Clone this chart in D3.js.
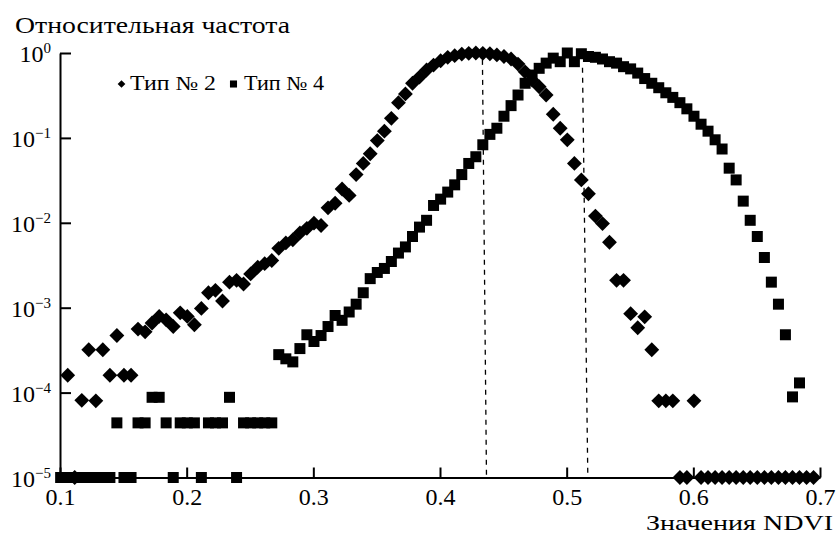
<!DOCTYPE html>
<html>
<head>
<meta charset="utf-8">
<script src="https://cdn.jsdelivr.net/npm/d3@7"></script>
<style>
    body { margin: 0; background: #fff; }
    text { font-family: "Liberation Serif", "Times New Roman", serif; fill: #000; }
</style>
</head>
<body>
<div id="chart"></div>
<script>
// NDVI bin centres
const ndvi = [
    0.1005, 0.1061, 0.1116, 0.1172, 0.1227, 0.1283, 0.1338, 0.1394, 0.1449, 0.1505,
    0.1561, 0.1616, 0.1672, 0.1727, 0.1783, 0.1838, 0.1894, 0.1949, 0.2005, 0.2061,
    0.2116, 0.2172, 0.2227, 0.2283, 0.2338, 0.2394, 0.2449, 0.2505, 0.2561, 0.2616,
    0.2672, 0.2727, 0.2783, 0.2838, 0.2894, 0.2949, 0.3005, 0.3061, 0.3116, 0.3172,
    0.3227, 0.3283, 0.3338, 0.3394, 0.3449, 0.3505, 0.3561, 0.3616, 0.3672, 0.3727,
    0.3783, 0.3838, 0.3894, 0.3949, 0.4005, 0.4061, 0.4116, 0.4172, 0.4227, 0.4283,
    0.4338, 0.4394, 0.4449, 0.4505, 0.4561, 0.4616, 0.4672, 0.4727, 0.4783, 0.4838,
    0.4894, 0.4949, 0.5005, 0.5061, 0.5116, 0.5172, 0.5227, 0.5283, 0.5338, 0.5394,
    0.5449, 0.5505, 0.5561, 0.5616, 0.5672, 0.5727, 0.5783, 0.5838, 0.5894, 0.5949,
    0.6005, 0.6061, 0.6116, 0.6172, 0.6227, 0.6283, 0.6338, 0.6394, 0.6449, 0.6505,
    0.6561, 0.6616, 0.6672, 0.6727, 0.6783, 0.6838, 0.6894, 0.6949
];

// relative frequency, type No 2 (diamonds); 0 = empty bin, drawn on the axis floor
const type2 = [
    null, 1.6e-4, 0, 8.1e-5, 3.2e-4, 8.0e-5, 3.2e-4, 1.6e-4, 4.7e-4, 1.6e-4,
    1.6e-4, 5.6e-4, 5.2e-4, 6.6e-4, 7.9e-4, 7.2e-4, 6.0e-4, 8.7e-4, 7.9e-4, 6.3e-4,
    9.8e-4, 1.5e-3, 1.6e-3, 1.2e-3, 2.0e-3, 2.1e-3, 1.9e-3, 2.5e-3, 3.0e-3, 3.3e-3,
    3.6e-3, 5.0e-3, 5.8e-3, 6.3e-3, 7.6e-3, 8.6e-3, 9.9e-3, 9.3e-3, 1.5e-2, 1.7e-2,
    2.5e-2, 2.1e-2, 3.7e-2, 5.0e-2, 6.5e-2, 9.3e-2, 0.12, 0.17, 0.26, 0.33,
    0.44, 0.52, 0.63, 0.72, 0.81, 0.89, 0.93, 0.97, 0.99, 1.0,
    0.99, 0.98, 0.95, 0.91, 0.85, 0.74, 0.60, 0.48, 0.40, 0.32,
    0.19, 0.13, 0.095, 0.05, 0.032, 0.022, 0.012, 0.0098, 0.0059, 0.0021,
    0.0021, 8.5e-4, 5.8e-4, 7.8e-4, 3.2e-4, 8.0e-5, 8.0e-5, 8.0e-5, 0, 0,
    8.0e-5, 0, 0, 0, 0, 0, 0, 0, 0, 0,
    0, 0, 0, 0, 0, 0, 0, 0
];

// relative frequency, type No 4 (squares)
const type4 = [
    0, 0, 0, 0, 0, 0, 0, 0, 4.4e-5, 0,
    0, 4.4e-5, 4.4e-5, 8.8e-5, 8.8e-5, 4.4e-5, 0, 4.4e-5, 4.4e-5, 4.4e-5,
    0, 4.4e-5, 4.4e-5, 4.4e-5, 8.8e-5, 0, 4.4e-5, 4.4e-5, 4.4e-5, 4.4e-5,
    4.4e-5, 2.8e-4, 2.5e-4, 2.3e-4, 3.3e-4, 4.8e-4, 4.0e-4, 4.7e-4, 6.0e-4, 8.1e-4,
    7.1e-4, 8.9e-4, 1.1e-3, 1.5e-3, 2.2e-3, 2.6e-3, 2.9e-3, 3.5e-3, 4.4e-3, 5.2e-3,
    6.9e-3, 8.9e-3, 1.07e-2, 1.6e-2, 1.9e-2, 2.3e-2, 2.8e-2, 3.7e-2, 5.0e-2, 6.0e-2,
    8.3e-2, 0.11, 0.13, 0.18, 0.24, 0.32, 0.44, 0.55, 0.66, 0.76,
    0.87, 0.79, 1.0, 0.79, 0.98, 0.91, 0.89, 0.85, 0.79, 0.76,
    0.69, 0.65, 0.58, 0.50, 0.44, 0.39, 0.34, 0.30, 0.26, 0.22,
    0.18, 0.145, 0.12, 0.095, 0.074, 0.044, 0.032, 0.018, 0.0107, 0.0069,
    0.0039, 0.0020, 0.0011, 4.8e-4, 8.9e-5, 1.3e-4, null, null
];

const xTicks = [0.1, 0.2, 0.3, 0.4, 0.5, 0.6, 0.7];
const yExponents = [0, -1, -2, -3, -4, -5];

// dashed mode lines: NDVI at top, NDVI at bottom, frequency where the line starts
const modeTopX = [0.4335, 0.5125];
const modeBottomX = [0.4367, 0.5167];
const modeTopY = [0.83, 0.67];

const width = 836, height = 534;
const floorValue = 1e-5;

const svg = d3.select('#chart').append('svg')
    .attr('width', width)
    .attr('height', height);

// Scales
const xScale = d3.scaleLinear().domain([0.1, 0.7]).range([60, 820]);
const yScale = d3.scaleLog().domain([floorValue, 1]).range([477.5, 53]);

// Dashed lines
svg.selectAll('.mode-line')
    .data(modeTopX.map((d, i) => ({ top: d, bottom: modeBottomX[i], y: modeTopY[i] })))
    .join('line')
    .attr('class', 'mode-line')
    .attr('x1', d => xScale(d.top))
    .attr('y1', d => yScale(d.y))
    .attr('x2', d => xScale(d.bottom))
    .attr('y2', yScale(floorValue))
    .attr('stroke', '#000')
    .attr('stroke-width', 1.3)
    .attr('stroke-dasharray', '5,5');

// Axes
const xAxis = d3.axisBottom(xScale)
    .tickValues(xTicks)
    .tickSize(-10)
    .tickSizeOuter(0)
    .tickPadding(10)
    .tickFormat(d3.format('.1f'));

const yAxis = d3.axisLeft(yScale)
    .tickValues(yExponents.map(e => Math.pow(10, e)))
    .tickSize(-11)
    .tickSizeOuter(0)
    .tickFormat('');

const xg = svg.append('g')
    .attr('transform', `translate(0,${yScale(floorValue)})`)
    .call(xAxis);

const yg = svg.append('g')
    .attr('transform', `translate(${xScale(0.1)},0)`)
    .call(yAxis);

[xg, yg].forEach(g => {
    g.selectAll('path, line').attr('stroke', '#000').attr('stroke-width', 2);
    g.selectAll('text')
        .attr('font-size', 24)
        .attr('fill', '#000');
});

// Y tick labels 10^n
const yLabels = svg.selectAll('.y-label')
    .data(yExponents)
    .join('text')
    .attr('class', 'y-label')
    .attr('x', 51)
    .attr('y', d => yScale(Math.pow(10, d)) + 9)
    .attr('text-anchor', 'end')
    .style('font-size', '24px');
yLabels.append('tspan').text('10');
yLabels.append('tspan')
    .attr('dy', -9)
    .style('font-size', '15px')
    .text(d => d === 0 ? '0' : '\u2212' + Math.abs(d));

// Markers
const squarePath = d3.symbol().type(d3.symbolSquare).size(121)();
const diamondPath = d3.symbol().type(d3.symbolSquare).size(110)();

svg.append('g').selectAll('path')
    .data(ndvi.map((x, i) => [x, type4[i]]).filter(d => d[1] !== null))
    .join('path')
    .attr('d', squarePath)
    .attr('transform', d => `translate(${xScale(d[0])},${yScale(Math.max(d[1], floorValue))})`)
    .attr('fill', '#000');

svg.append('g').selectAll('path')
    .data(ndvi.map((x, i) => [x, type2[i]]).filter(d => d[1] !== null))
    .join('path')
    .attr('d', diamondPath)
    .attr('transform', d => `translate(${xScale(d[0])},${yScale(Math.max(d[1], floorValue))}) rotate(45)`)
    .attr('fill', '#000');

// Legend
const legend = svg.append('g');
legend.append('path')
    .attr('d', d3.symbol().type(d3.symbolSquare).size(30)())
    .attr('transform', 'translate(121.5,84) rotate(45)');
legend.append('text').attr('x', 130).attr('y', 90)
    .attr('textLength', 86).attr('lengthAdjust', 'spacingAndGlyphs')
    .style('font-size', '20px').text('Тип № 2');
legend.append('path')
    .attr('d', d3.symbol().type(d3.symbolSquare).size(50)())
    .attr('transform', 'translate(233.5,84)');
legend.append('text').attr('x', 244).attr('y', 90)
    .attr('textLength', 80).attr('lengthAdjust', 'spacingAndGlyphs')
    .style('font-size', '20px').text('Тип № 4');

// Axis titles
svg.append('text')
    .attr('x', 15)
    .attr('y', 33)
    .attr('textLength', 275)
    .attr('lengthAdjust', 'spacingAndGlyphs')
    .style('font-size', '24px')
    .text('Относительная частота');

svg.append('text')
    .attr('x', 646)
    .attr('y', 530)
    .attr('textLength', 187)
    .attr('lengthAdjust', 'spacingAndGlyphs')
    .style('font-size', '22px')
    .text('Значения NDVI');
</script>
</body>
</html>
